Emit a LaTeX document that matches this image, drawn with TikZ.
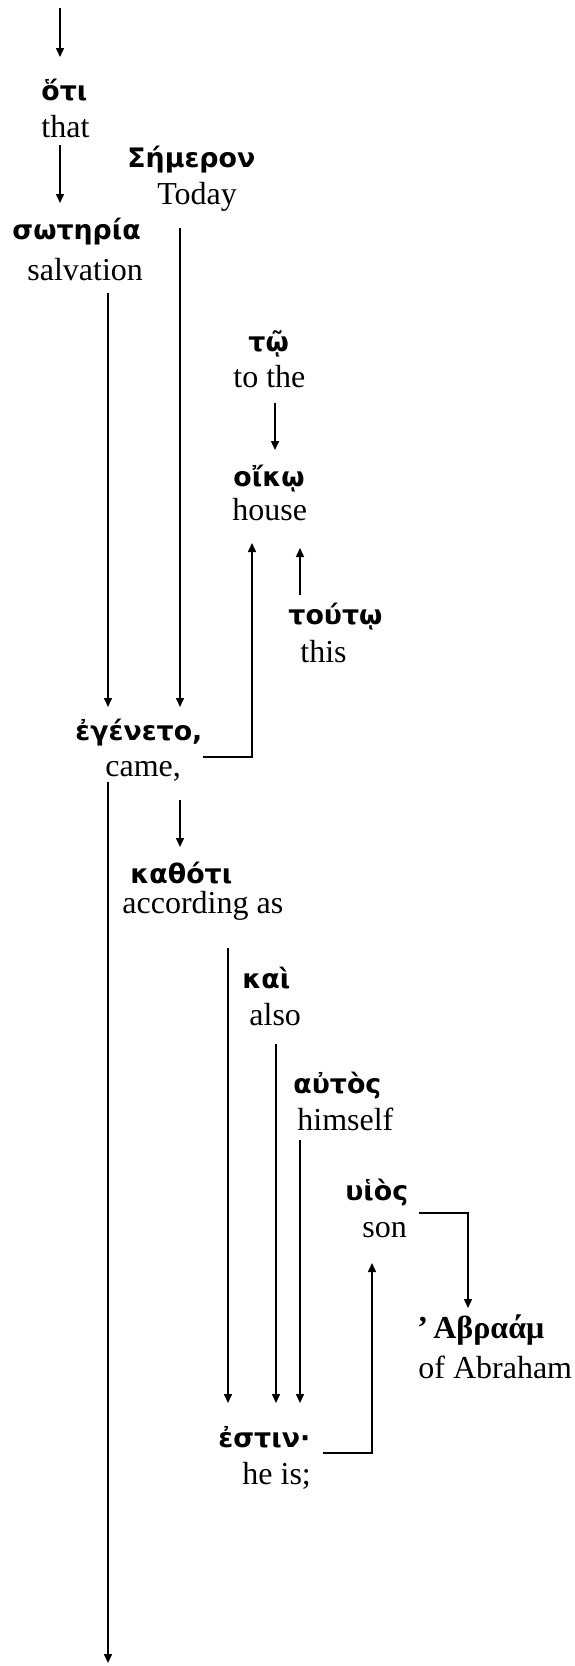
\documentclass[tikz,border=0pt]{standalone}
\usepackage{fontspec}
\setmainfont{Liberation Serif}
\newfontfamily\grk{DejaVu Sans}
\usepackage{tikz}
\usetikzlibrary{arrows.meta, calc}

\begin{document}
\begin{tikzpicture}[x=0.5pt, y=-0.5pt,
        greek/.style={anchor=base west, inner sep=0pt, font=\grk\bfseries\fontsize{13.4}{16}\selectfont},
        gloss/.style={anchor=base west, inner sep=0pt, font=\fontsize{16}{19}\selectfont},
        arr/.style={line width=0.75pt, -{Triangle[length=4.5pt, width=4pt]}}]
        \useasboundingbox (0,0) rectangle (574,1666);
        % words
        \node[greek] (oti) at (41,100) {ὅτι};
        \node[gloss] (oti-e) at (41,137) {that};
        \node[greek] (soteria) at (12,239) {σωτηρία};
        \node[gloss] (soteria-e) at (27,280) {salvation};
        \node[greek] (semeron) at (127,167) {Σήμερον};
        \node[gloss] (semeron-e) at (157,204) {Today};
        \node[greek] (to) at (248,351) {τῷ};
        \node[gloss] (to-e) at (233,387) {to the};
        \node[greek] (oiko) at (233,486) {οἴκῳ};
        \node[gloss] (oiko-e) at (232,520) {house};
        \node[greek] (touto) at (288,624) {τούτῳ};
        \node[gloss] (touto-e) at (300,662) {this};
        \node[greek] (egeneto) at (75,740) {ἐγένετο,};
        \node[gloss] (egeneto-e) at (105,776) {came,};
        \node[greek] (kathoti) at (130,883) {καθότι};
        \node[gloss] (kathoti-e) at (122,913) {according as};
        \node[greek] (kai) at (242,988) {καὶ};
        \node[gloss] (kai-e) at (249,1025) {also};
        \node[greek] (autos) at (293,1093) {αὐτὸς};
        \node[gloss] (autos-e) at (297,1130) {himself};
        \node[greek] (huios) at (345,1200) {υἱὸς};
        \node[gloss] (huios-e) at (362,1237) {son};
        \node[gloss, font=\bfseries\fontsize{16}{19}\selectfont] (abraam) at (417,1338) {’\,Αβραάμ};
        \node[gloss] (abraam-e) at (418,1378) {of Abraham};
        \node[greek] (estin) at (218,1447) {ἐστιν·};
        \node[gloss] (estin-e) at (242,1484) {he is;};
        \coordinate (top) at (60,8);
        \coordinate (bottom) at (108,1663);
        % links
        \draw[arr] (top) -- ($(oti.base west)+(19,-43)$);
        \draw[arr] ($(oti-e.base west)+(19,8)$) -- ($(soteria.base west)+(48,-36)$);
        \draw[arr] ($(soteria-e.base west)+(81,13)$) -- ($(egeneto.base west)+(33,-33)$);
        \draw[arr] ($(semeron-e.base west)+(23,24)$) -- ($(egeneto.base west)+(105,-33)$);
        \draw[arr] ($(to-e.base west)+(42,16)$) -- ($(oiko.base west)+(42,-36)$);
        \draw[arr] ($(touto.base west)+(12,-29)$) -- ($(oiko-e.base west)+(68,28)$);
        \draw[arr] ($(egeneto-e.base west)+(98,-19)$) -| ($(oiko-e.base west)+(20,23)$);
        \draw[arr] ($(egeneto-e.base west)+(75,24)$) -- ($(kathoti.base west)+(50,-36)$);
        \draw[arr] ($(egeneto-e.base west)+(3,6)$) -- (bottom);
        \draw[arr] ($(kathoti-e.base west)+(106,35)$) -- ($(estin.base west)+(10,-44)$);
        \draw[arr] ($(kai-e.base west)+(27,19)$) -- ($(estin.base west)+(58,-44)$);
        \draw[arr] ($(autos-e.base west)+(3,10)$) -- ($(estin.base west)+(82,-44)$);
        \draw[arr] ($(estin.base west)+(105,6)$) -| ($(huios-e.base west)+(10,26)$);
        \draw[arr] ($(huios.base west)+(74,13)$) -| ($(abraam.base west)+(51,-30)$);
    \end{tikzpicture}
\end{document}
